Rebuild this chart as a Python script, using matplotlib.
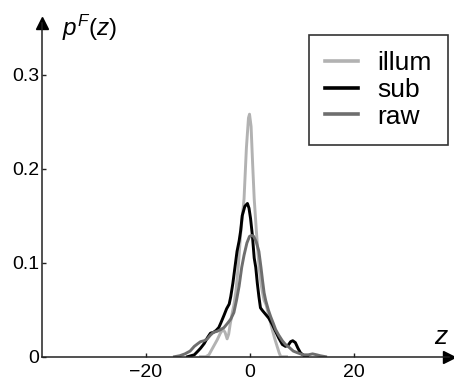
import matplotlib
matplotlib.use("Agg")
import matplotlib.pyplot as plt

plt.rcParams['font.family'] = ['Liberation Sans', 'DejaVu Sans']
plt.rcParams['mathtext.fontset'] = 'custom'
plt.rcParams['mathtext.it'] = 'Liberation Sans:italic'
plt.rcParams['mathtext.rm'] = 'Liberation Sans'

# ---- data ----
illum_z = [-9.5, -8.5, -7.9, -7.5, -6.9, -6.3, -5.7, -5.2, -4.8, -4.4, -4.1, -3.8, -3.4,
           -3.1, -2.7, -2.2, -1.8, -1.15, -0.7, -0.3, -0.1, 0.2, 0.5, 0.8, 1.2, 1.5, 1.8,
           2.1, 2.4, 2.7, 3.1, 3.5, 3.9, 4.3, 4.7, 5.2, 5.6, 5.9, 7.0]
illum_p = [0.0, 0.0, 0.002, 0.006, 0.012, 0.018, 0.025, 0.029, 0.026, 0.019, 0.024, 0.035, 0.047,
           0.055, 0.070, 0.100, 0.131, 0.168, 0.222, 0.254, 0.258, 0.245, 0.205, 0.168, 0.135, 0.112, 0.092,
           0.078, 0.068, 0.060, 0.055, 0.046, 0.037, 0.028, 0.020, 0.011, 0.004, 0.0, 0.0]

sub_z = [-12.0, -10.7, -10.0, -9.5, -8.8, -8.2, -7.6, -7.0, -6.5, -6.0, -5.6, -5.0, -4.5, -4.0,
         -3.7, -3.3, -2.9, -2.5, -2.1, -1.8, -1.5, -1.0, -0.5, -0.2, 0.1, 0.45, 0.8, 1.1, 1.4,
         1.7, 2.0, 2.4, 3.0, 3.6, 4.3, 4.9, 5.5, 6.2, 6.8, 7.3, 7.8, 8.2, 8.7, 9.2, 9.7, 10.4, 11.0]
sub_p = [0.0, 0.002, 0.006, 0.009, 0.014, 0.020, 0.025, 0.026, 0.028, 0.031, 0.036, 0.044, 0.051, 0.056,
         0.064, 0.078, 0.095, 0.112, 0.123, 0.134, 0.150, 0.160, 0.163, 0.158, 0.147, 0.129, 0.105, 0.095, 0.078,
         0.064, 0.052, 0.049, 0.045, 0.041, 0.034, 0.027, 0.020, 0.013, 0.011, 0.012, 0.016, 0.017, 0.015, 0.009, 0.004, 0.001, 0.0]

raw_z = [-14.5, -13.5, -12.5, -11.5, -10.7, -10.0, -9.5, -8.8, -8.2, -7.6, -7.0, -6.3, -5.6, -5.0,
         -4.4, -3.7, -3.1, -2.6, -2.1, -1.6, -1.15, -0.6, -0.1, 0.3, 0.7, 1.2, 1.7, 2.1, 2.4, 2.7,
         3.0, 3.5, 4.0, 4.5, 4.9, 5.5, 6.2, 6.8, 7.5, 8.3, 9.2, 10.2, 11.2, 12.0, 12.8, 13.5, 14.5]
raw_p = [0.0, 0.001, 0.003, 0.006, 0.011, 0.014, 0.016, 0.017, 0.019, 0.023, 0.026, 0.027, 0.029, 0.031,
         0.035, 0.040, 0.047, 0.060, 0.075, 0.095, 0.108, 0.121, 0.128, 0.129, 0.128, 0.122, 0.112, 0.095, 0.081, 0.068,
         0.060, 0.050, 0.042, 0.035, 0.029, 0.023, 0.017, 0.013, 0.010, 0.006, 0.004, 0.002, 0.002, 0.003, 0.002, 0.001, 0.0]

labels = ["illum", "sub", "raw"]
colors = ["#b2b2b2", "#000000", "#6e6e6e"]
xticks = [-20, 0, 20]
yticks = [0, 0.1, 0.2, 0.3]
ytick_labels = ["0", "0.1", "0.2", "0.3"]

# ---- figure ----
W, H = 454, 385
fig = plt.figure(figsize=(W / 100, H / 100), dpi=100)
x0, x1 = 41.7, 449.0
yb, yt = 356.7, 23.0
ax = fig.add_axes([x0 / W, 1 - yb / H, (x1 - x0) / W, (yb - yt) / H])

for z, p, lab, c in zip([illum_z, sub_z, raw_z], [illum_p, sub_p, raw_p], labels, colors):
    ax.plot(z, p, color=c, lw=2.1, label=lab, solid_joinstyle='round')

ax.set_xlim(-40, 38.2)
ax.set_ylim(0, 0.355)
ax.spines['top'].set_visible(False)
ax.spines['right'].set_visible(False)
for s in ('left', 'bottom'):
    ax.spines[s].set_linewidth(1.1)
    ax.spines[s].set_color('#222222')

ax.set_xticks(xticks)
ax.set_yticks(yticks)
ax.set_yticklabels(ytick_labels)
ax.tick_params(direction='in', length=3, width=1, labelsize=14, color='#222222')
ax.tick_params(axis='x', pad=5)
ax.tick_params(axis='y', pad=2)

# arrow heads on the axes
ax.plot(1, 0, marker='>', color='k', markersize=8, transform=ax.transAxes, clip_on=False)
ax.plot(0, 1, marker='^', color='k', markersize=8, transform=ax.transAxes, clip_on=False)

fig.text(62 / W, 1 - 28 / H, r'$p^F\mathit{(z)}$', fontsize=17.5, va='center', ha='left')
fig.text(441 / W, 1 - 337 / H, r'$z$', fontsize=19, va='center', ha='center')

leg = ax.legend(loc='upper right', bbox_to_anchor=(448 / W, 1 - 35 / H),
                bbox_transform=fig.transFigure, borderaxespad=0, fontsize=19,
                handlelength=1.25, handletextpad=0.72, labelspacing=0.1,
                borderpad=0.62, fancybox=False, frameon=True)
leg.get_frame().set_edgecolor('k')
leg.get_frame().set_linewidth(1.2)
for l in leg.get_lines():
    l.set_linewidth(2.6)

fig.savefig("out.png", dpi=100)
